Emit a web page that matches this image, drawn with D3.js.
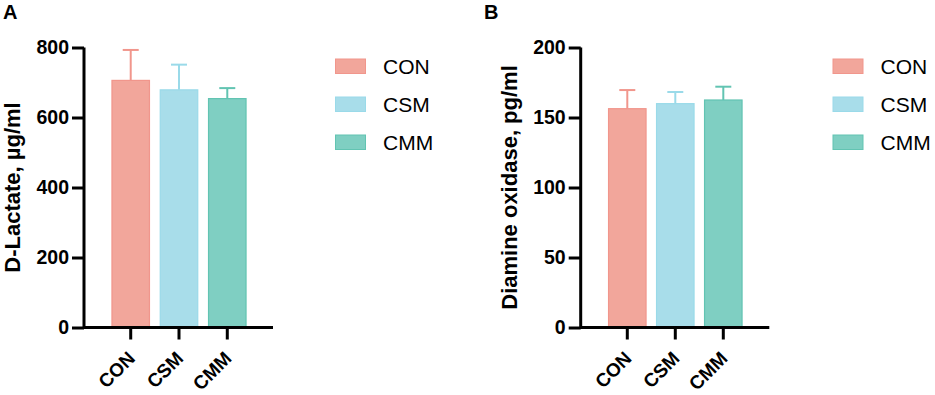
<!DOCTYPE html>
<html><head><meta charset="utf-8">
<script src="https://cdn.jsdelivr.net/npm/d3@7"></script>
<style>body{margin:0;background:#fff}svg{display:block}text{font-family:"Liberation Sans",Arial,Helvetica,sans-serif}</style>
</head><body>
<svg id="c" width="935" height="395"></svg>
<script>
const categories = ["CON","CSM","CMM"];
const lactateMean = [706, 679, 654];
const lactateErr = [793, 751, 684];
const daoMean = [156.3, 159.9, 162.5];
const daoErr = [169.6, 168.2, 172.0];
const lactateTicks = [0,200,400,600,800];
const daoTicks = [0,50,100,150,200];
const fills = ["#F2A69B","#A8DDEA","#7FCFC2"];
const strokes = ["#F1968C","#9ADAE9","#62C4B2"];

const svg = d3.select("#c");

function panel(opt){
  const g = svg.append("g");
  const y = d3.scaleLinear().domain(opt.domain).range([327.5, 47.5]);
  const x = d3.scaleBand().domain(categories).range([opt.x0, opt.x1]).paddingInner(0.5).paddingOuter(0.5);
  const bw = 37.5;
  categories.forEach((c,i)=>{
    const cx = x(c)+x.bandwidth()/2;
    g.append("rect").attr("x",cx-bw/2).attr("y",y(opt.mean[i])).attr("width",bw).attr("height",y(0)-y(opt.mean[i]))
      .attr("fill",fills[i]).attr("stroke",strokes[i]).attr("stroke-width",1.2);
    g.append("line").attr("x1",cx).attr("x2",cx).attr("y1",y(opt.mean[i])).attr("y2",y(opt.err[i])).attr("stroke",strokes[i]).attr("stroke-width",2);
    g.append("line").attr("x1",cx-8).attr("x2",cx+8).attr("y1",y(opt.err[i])).attr("y2",y(opt.err[i])).attr("stroke",strokes[i]).attr("stroke-width",2);
  });
  const ya = g.append("g").attr("transform",`translate(${opt.ax},0)`)
    .call(d3.axisLeft(y).tickValues(opt.ticks).tickSize(12).tickPadding(3).tickSizeOuter(0));
  ya.attr("font-size",null).attr("font-family",null);
  ya.select(".domain").attr("stroke","#000").attr("stroke-width",3).attr("d",`M0,${y(0)+1.5}V${y(opt.domain[1])}`);
  ya.selectAll(".tick line").attr("stroke","#000").attr("stroke-width",3);
  ya.selectAll(".tick text").style("font-size","19.5px").style("font-weight","bold").attr("fill","#000");
  const xa = g.append("g").attr("transform",`translate(0,${y(0)})`)
    .call(d3.axisBottom(x).tickSize(12).tickSizeOuter(0));
  xa.attr("font-size",null).attr("font-family",null);
  xa.select(".domain").attr("stroke","#000").attr("stroke-width",3).attr("d",`M${opt.ax},0H${opt.axEnd}`);
  xa.selectAll(".tick line").attr("stroke","#000").attr("stroke-width",3);
  xa.selectAll(".tick text").style("font-size","19px").style("font-weight","bold").attr("fill","#000")
    .attr("text-anchor","end").attr("dy",null).attr("y",null)
    .attr("transform","translate(5.5,32) rotate(-45)");
  g.append("text").attr("transform",`translate(${opt.labX},187.5) rotate(-90)`).attr("text-anchor","middle")
    .attr("dy","0.35em").style("font-size","22px").style("font-weight","bold").text(opt.label);
  g.append("text").attr("x",opt.letterX).attr("y",19).style("font-size","20px").style("font-weight","bold").text(opt.letter);
  categories.forEach((c,i)=>{
    const ly = 59 + i*38;
    g.append("rect").attr("x",opt.legX).attr("y",ly).attr("width",30).attr("height",14.5).attr("fill",fills[i]).attr("stroke",strokes[i]).attr("stroke-width",1);
    g.append("text").attr("x",opt.legX+47.5).attr("y",ly+7.5).attr("dy","0.36em").style("font-size","21px").text(c);
  });
}

panel({domain:[0,800],ticks:lactateTicks,mean:lactateMean,err:lactateErr,x0:94.5,x1:263.5,ax:84,axEnd:273,
  label:"D-Lactate, µg/ml",labX:12.5,letter:"A",letterX:3,legX:335.5});
panel({domain:[0,200],ticks:daoTicks,mean:daoMean,err:daoErr,x0:591.3,x1:759.3,ax:580.7,axEnd:769.3,
  label:"Diamine oxidase, pg/ml",labX:509,letter:"B",letterX:484,legX:833});
</script>
</body></html>
